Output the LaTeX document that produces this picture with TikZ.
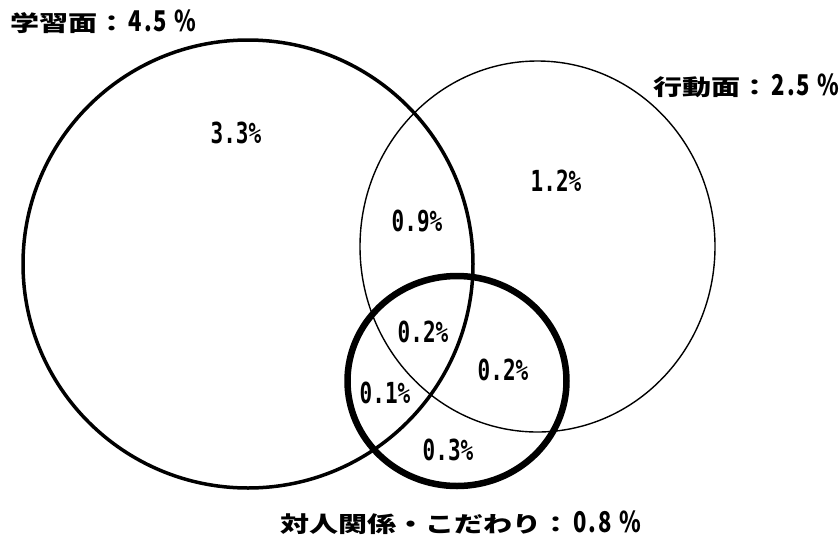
\documentclass[tikz,border=0pt]{standalone}
\usepackage{fontspec}
\newfontfamily\jpfont{Noto Sans CJK JP}
\newfontfamily\monofont{DejaVu Sans Mono}
\tikzset{
  pct/.style={font=\monofont\bfseries\fontsize{20}{20}\selectfont, inner sep=0pt},
  ttl/.style={font=\jpfont\bfseries\fontsize{22}{22}\selectfont, inner sep=0pt},
}
\newcommand{\pctxt}[1]{\scalebox{1.05}[1.45]{#1}}
\newcommand{\ttltxt}[1]{\scalebox{1.32}[1.0]{#1}}
\newcommand{\cel}[1]{\makebox[12.5pt]{\scalebox{1.0}[1.3]{#1}}}
\newcommand{\ttlnum}[3]{\hspace{3pt}\cel{#1}\cel{.}\cel{#2}\cel{}\cel{#3}}
\begin{document}
\begin{tikzpicture}[x=1pt,y=-1pt]
\useasboundingbox (0,0) rectangle (839,542);
% circles
\draw[line width=3.5pt] (248,264) ellipse [x radius=225, y radius=224];
\draw[line width=1.4pt] (537.5,246.5) ellipse [x radius=177.5, y radius=185.5];
\draw[line width=6.5pt] (457,381) ellipse [x radius=109.5, y radius=105];
% titles
\node[ttl, anchor=west] (tA) at (10,22) {\ttltxt{学習面：}\ttlnum{4}{5}{\%}};
\node[ttl, anchor=west] (tB) at (653,86) {\ttltxt{行動面：}\ttlnum{2}{5}{\%}};
\node[ttl, anchor=west] (tC) at (280,523) {\ttltxt{対人関係・こだわり：}\ttlnum{0}{8}{\%}};
% percentages
\node[pct] (p1) at (236,133) {\pctxt{3.3\%}};
\node[pct] (p2) at (556,181) {\pctxt{1.2\%}};
\node[pct] (p3) at (417,221) {\pctxt{0.9\%}};
\node[pct] (p4) at (423,332) {\pctxt{0.2\%}};
\node[pct] (p5) at (503,370) {\pctxt{0.2\%}};
\node[pct] (p6) at (385,393) {\pctxt{0.1\%}};
\node[pct] (p7) at (448,450) {\pctxt{0.3\%}};
\end{tikzpicture}
\end{document}
